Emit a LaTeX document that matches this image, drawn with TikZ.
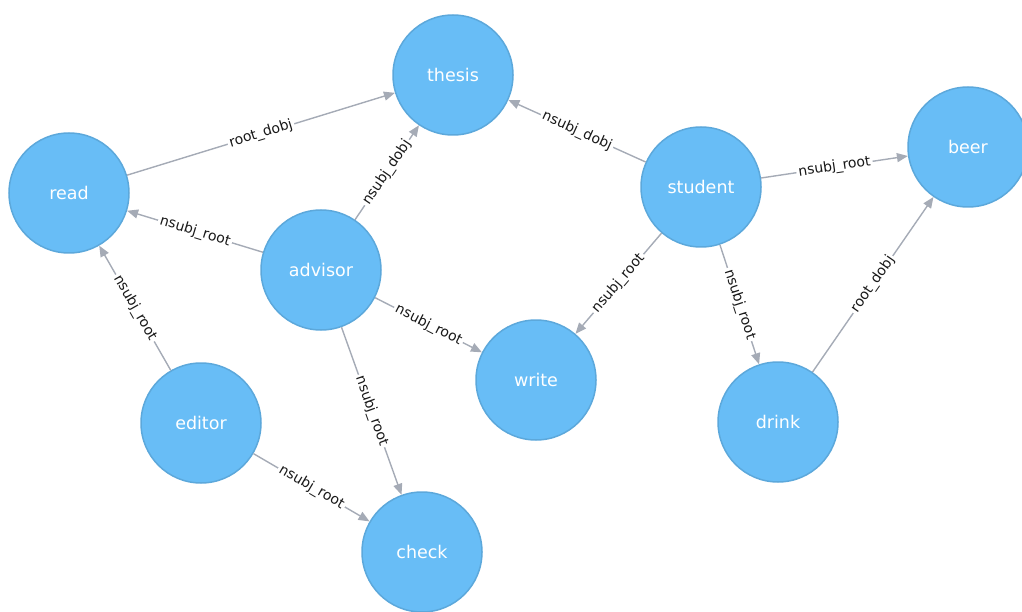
\documentclass[tikz,border=0pt]{standalone}
\usepackage{fontspec}
\setmainfont{DejaVu Sans}
\usetikzlibrary{arrows.meta}
\definecolor{nodefill}{HTML}{68BDF6}
\definecolor{nodeline}{HTML}{5CA8DB}
\definecolor{edgegray}{HTML}{A5ABB6}
\tikzset{
  word/.style={circle, fill=nodefill, draw=nodeline, line width=1.5pt,
    minimum size=120pt, inner sep=0pt, text=white,
    font=\fontsize{17.5}{20}\selectfont},
  dep/.style={draw=edgegray, line width=1.4pt,
    -{Triangle[length=11pt,width=9pt]}},
  rel/.style={sloped, fill=white, inner sep=2pt, text=black!90,
    font=\fontsize{14}{16}\selectfont}
}
\begin{document}
\begin{tikzpicture}[x=1pt,y=-1pt]
\useasboundingbox (0,0) rectangle (1022,612);

\node[word] (thesis) at (453,75) {thesis};
\node[word] (read) at (69,193) {read};
\node[word] (advisor) at (321,270) {advisor};
\node[word] (student) at (701,187) {student};
\node[word] (beer) at (968,147) {beer};
\node[word] (write) at (536,380) {write};
\node[word] (drink) at (778,422) {drink};
\node[word] (editor) at (201,423) {editor};
\node[word] (check) at (422,552) {check};

\draw[dep]
(read) -- node[rel] {root\_dobj} (thesis);
\draw[dep]
(advisor) -- node[rel] {nsubj\_root} (read);
\draw[dep]
(advisor) -- node[rel] {nsubj\_dobj} (thesis);
\draw[dep]
(advisor) -- node[rel] {nsubj\_root} (write);
\draw[dep]
(advisor) -- node[rel] {nsubj\_root} (check);
\draw[dep]
(editor) -- node[rel] {nsubj\_root} (read);
\draw[dep]
(editor) -- node[rel] {nsubj\_root} (check);

\draw[dep]
(student) -- node[rel] {nsubj\_dobj} (thesis);
\draw[dep]
(student) -- node[rel] {nsubj\_root} (beer);
\draw[dep]
(student) -- node[rel] {nsubj\_root} (write);
\draw[dep]
(student) -- node[rel] {nsubj\_root} (drink);
\draw[dep]
(drink) -- node[rel] {root\_dobj} (beer);

\end{tikzpicture}
\end{document}
